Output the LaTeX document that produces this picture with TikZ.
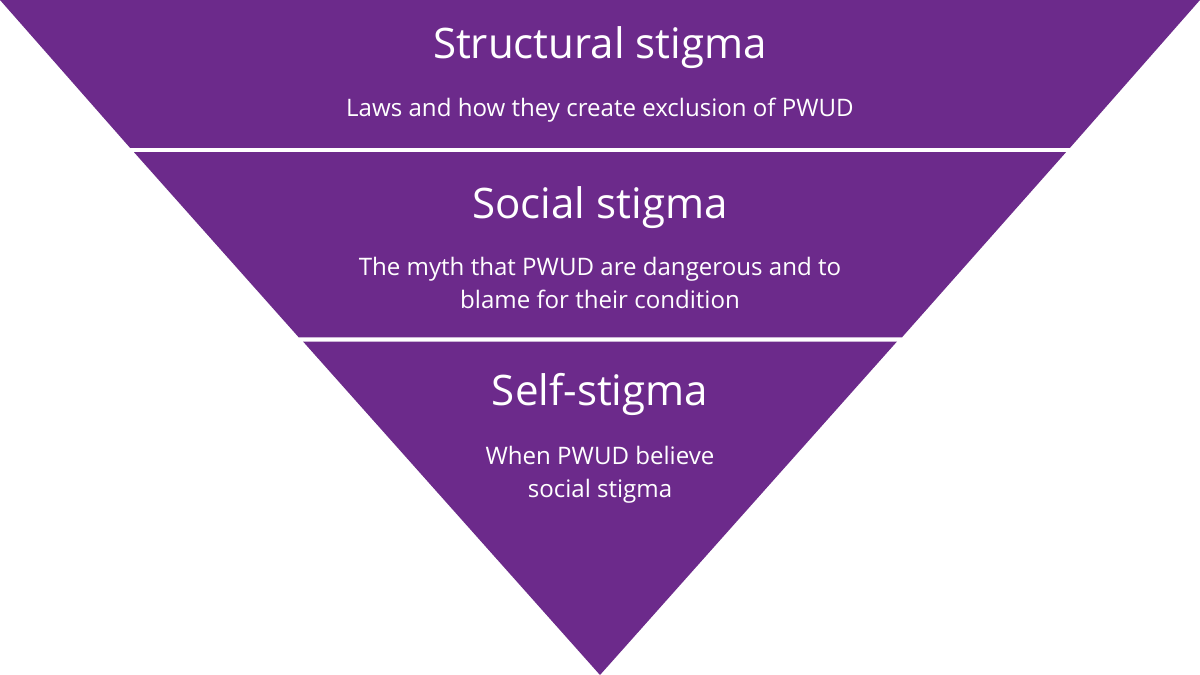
\documentclass[tikz,border=0pt]{standalone}
\usepackage{fontspec}
\setmainfont{Open Sans}
\definecolor{pur}{HTML}{6C2A8B}
\tikzset{
  band/.style={fill=pur,draw=none},
  title/.style={text=white,anchor=base,font=\fontsize{42.05}{50}\selectfont,inner sep=0pt},
  sub/.style={text=white,anchor=base,font=\fontsize{24.08}{32}\selectfont,inner sep=0pt}
}
\begin{document}
\begin{tikzpicture}[x=1pt,y=-1pt]
\useasboundingbox (0,0) rectangle (1200,675);
\fill[white] (0,0) rectangle (1200,675);
\fill[band] (0,0) -- (1200,0) -- (1070,147.8) -- (130,147.8) -- cycle;
\fill[band] (134,152.2) -- (1066,152.2) -- (902,337.3) -- (298.7,337.3) -- cycle;
\fill[band] (303,341.5) -- (897,341.5) -- (600,675) -- cycle;
\node[title] (t1) at (600,58) {Structural stigma};
\node[sub] (s1) at (600,116) {Laws and how they create exclusion of PWUD};
\node[title] (t2) at (600,218) {Social stigma};
\node[sub] (s2) at (600,275) {The myth that PWUD are dangerous and to};
\node[sub] (s2b) at (600,308) {blame for their condition};
\node[title] (t3) at (600,405) {Self-stigma};
\node[sub] (s3) at (600,464) {When PWUD believe};
\node[sub] (s3b) at (600,497) {social stigma};
\end{tikzpicture}
\end{document}
